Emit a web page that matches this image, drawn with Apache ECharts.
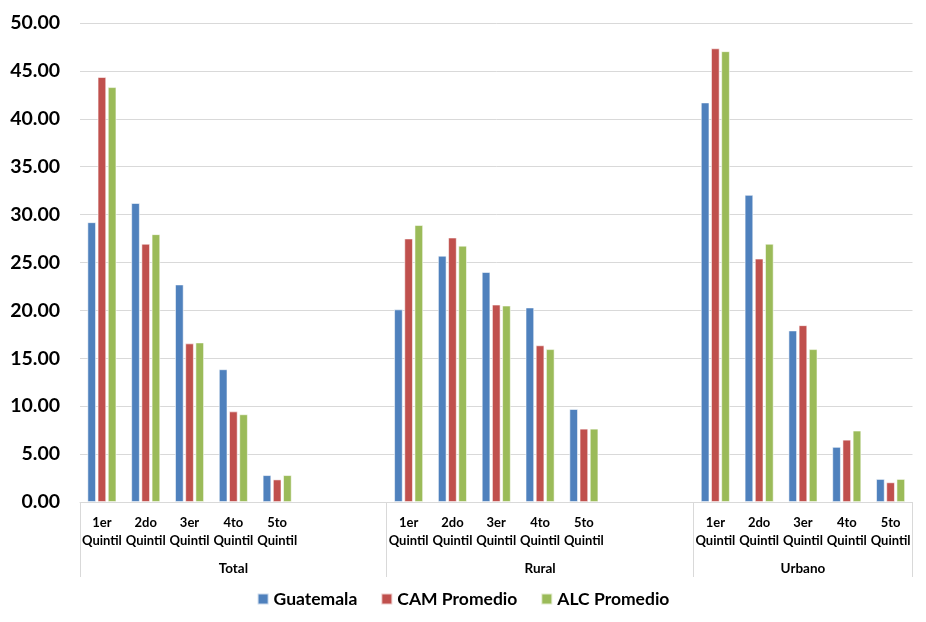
<!DOCTYPE html>
<html>
<head>
<meta charset="utf-8">
<script src="https://cdn.jsdelivr.net/npm/echarts@6/dist/echarts.min.js"></script>
<style>
  html, body { margin: 0; padding: 0; background: #fff; }
  #frame { position: absolute; left: 0; top: 0; width: 926px; height: 622px; }
  #frame::before { content: ""; position: absolute; left: 3px; top: 0; bottom: 0; border-left: 1px solid #d9d9d9; }
  #chart { position: absolute; left: 0; top: 0; width: 926px; height: 622px; }
</style>
</head>
<body>
<div id="frame"><div id="chart"></div></div>
<script>
// Quintile slots per area; Total and Rural leave two empty slots after the fifth quintile
const quintiles = ['1er\nQuintil', '2do\nQuintil', '3er\nQuintil', '4to\nQuintil', '5to\nQuintil'];
const groups = ['Total', 'Rural', 'Urbano'];
const groupSlots = [7, 7, 5];

const guatemala = [29.2, 31.2, 22.7, 13.85, 2.8,   20.1, 25.7, 24.0, 20.3, 9.7,   41.7, 32.05, 17.9, 5.75, 2.4];
const camPromedio = [44.35, 26.95, 16.55, 9.45, 2.35,   27.5, 27.6, 20.6, 16.35, 7.65,   47.35, 25.4, 18.45, 6.5, 2.05];
const alcPromedio = [43.3, 27.95, 16.65, 9.15, 2.8,   28.9, 26.75, 20.5, 15.95, 7.65,   47.05, 26.95, 15.95, 7.45, 2.4];

const yTicks = { min: 0, max: 50, step: 5 };

// Build the flat category list plus per-slot group labels
const categories = [];
const groupLabels = [];
const groupStarts = [];
const slotToValue = [];
let q = 0;
groups.forEach((g, gi) => {
  groupStarts.push(categories.length);
  const n = groupSlots[gi];
  const mid = Math.floor((n - 1) / 2);
  for (let i = 0; i < n; i++) {
    if (i < quintiles.length) {
      categories.push(quintiles[i]);
      slotToValue.push(q++);
    } else {
      categories.push('');
      slotToValue.push(-1);
    }
    groupLabels.push(i === mid ? g : '');
  }
});
const pick = arr => slotToValue.map(k => (k < 0 ? null : arr[k]));

const FONT = 'Lato, "Open Sans", sans-serif';
const chart = echarts.init(document.getElementById('chart'), null, { renderer: 'canvas' });

const barStyle = color => ({
  color: color,
  borderColor: 'rgba(255,255,255,0.7)',
  borderWidth: 0.8
});

chart.setOption({
  animation: false,
  backgroundColor: '#fff',
  grid: { left: 80, right: 13.5, top: 23, bottom: 120, containLabel: false },
  legend: {
    bottom: 9,
    left: 'center',
    itemWidth: 11,
    itemHeight: 11,
    itemGap: 23,
    icon: 'rect',
    textStyle: { fontFamily: FONT, fontWeight: 'bold', fontSize: 17.5, color: '#000' },
    data: ['Guatemala', 'CAM Promedio', 'ALC Promedio']
  },
  xAxis: [
    {
      type: 'category',
      data: categories,
      position: 'bottom',
      axisLine: { show: true, lineStyle: { color: '#d9d9d9', width: 1 } },
      axisTick: { show: false },
      axisLabel: {
        interval: 0,
        margin: 12,
        fontFamily: FONT,
        fontWeight: 'bold',
        fontSize: 13,
        lineHeight: 18,
        color: '#000'
      },
      splitLine: { show: false }
    },
    {
      type: 'category',
      data: groupLabels,
      position: 'bottom',
      axisLine: { show: false },
      axisTick: {
        show: true,
        length: 75,
        interval: (index) => groupStarts.indexOf(index) >= 0,
        lineStyle: { color: '#d9d9d9', width: 1 }
      },
      axisLabel: {
        interval: 0,
        margin: 60,
        fontFamily: FONT,
        fontWeight: 'bold',
        fontSize: 13.5,
        color: '#000'
      },
      splitLine: { show: false }
    }
  ],
  yAxis: {
    type: 'value',
    min: yTicks.min,
    max: yTicks.max,
    interval: yTicks.step,
    axisLine: { show: false },
    axisTick: { show: false },
    axisLabel: {
      margin: 20,
      formatter: v => v.toFixed(2),
      fontFamily: FONT,
      fontWeight: 'bold',
      fontSize: 19.5,
      color: '#000'
    },
    splitLine: { lineStyle: { color: '#d9d9d9', width: 1 } }
  },
  series: [
    { name: 'Guatemala', type: 'bar', xAxisIndex: 0, data: pick(guatemala), barWidth: 8.5, barGap: '20%', itemStyle: barStyle('#4F81BD') },
    { name: 'CAM Promedio', type: 'bar', xAxisIndex: 0, data: pick(camPromedio), barWidth: 8.5, barGap: '20%', itemStyle: barStyle('#C0504D') },
    { name: 'ALC Promedio', type: 'bar', xAxisIndex: 0, data: pick(alcPromedio), barWidth: 8.5, barGap: '20%', itemStyle: barStyle('#9BBB59') }
  ]
});
</script>
</body>
</html>
